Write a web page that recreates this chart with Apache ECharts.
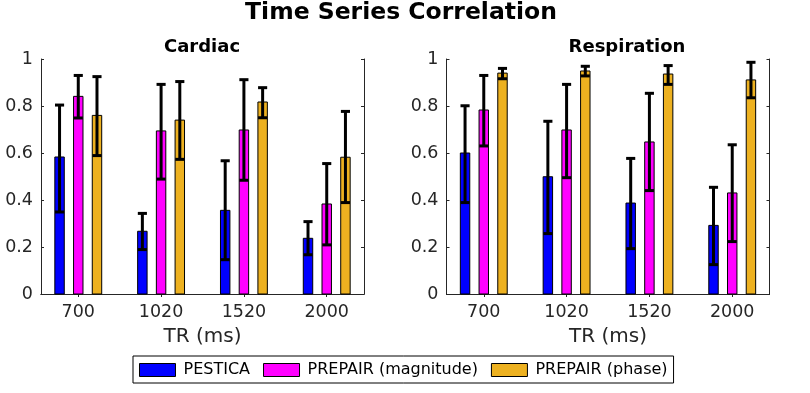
<!DOCTYPE html>
<html>
<head>
<meta charset="utf-8">
<script src="https://cdn.jsdelivr.net/npm/echarts@6/dist/echarts.min.js"></script>
<style>html,body{margin:0;padding:0;background:#fff;}#c{width:810px;height:393px;}</style>
</head>
<body>
<div id="c"></div>
<script>
const categories = ['700', '1020', '1520', '2000'];
const seriesNames = ['PESTICA', 'PREPAIR (magnitude)', 'PREPAIR (phase)'];
const yTicks = [0, 0.2, 0.4, 0.6, 0.8, 1];

// Cardiac
const cardiacPestica      = [0.583, 0.267, 0.356, 0.237];
const cardiacPesticaLo    = [0.349, 0.189, 0.146, 0.167];
const cardiacPesticaHi    = [0.804, 0.343, 0.567, 0.308];
const cardiacMagnitude    = [0.841, 0.694, 0.698, 0.383];
const cardiacMagnitudeLo  = [0.749, 0.489, 0.484, 0.209];
const cardiacMagnitudeHi  = [0.930, 0.892, 0.912, 0.555];
const cardiacPhase        = [0.760, 0.740, 0.817, 0.582];
const cardiacPhaseLo      = [0.589, 0.573, 0.750, 0.389];
const cardiacPhaseHi      = [0.925, 0.904, 0.878, 0.777];

// Respiration
const respPestica      = [0.600, 0.499, 0.387, 0.292];
const respPesticaLo    = [0.389, 0.257, 0.193, 0.125];
const respPesticaHi    = [0.801, 0.735, 0.577, 0.454];
const respMagnitude    = [0.783, 0.698, 0.647, 0.430];
const respMagnitudeLo  = [0.630, 0.495, 0.440, 0.223];
const respMagnitudeHi  = [0.930, 0.892, 0.854, 0.635];
const respPhase        = [0.940, 0.949, 0.936, 0.911];
const respPhaseLo      = [0.916, 0.928, 0.892, 0.835];
const respPhaseHi      = [0.960, 0.969, 0.972, 0.986];

const colors = ['#0000FF', '#FF00FF', '#EDB120'];
const offsets = [-0.226, 0, 0.226];
const halfW = 0.057;
const capHalf = 0.055;

const panels = [
  { means: [cardiacPestica, cardiacMagnitude, cardiacPhase],
    los: [cardiacPesticaLo, cardiacMagnitudeLo, cardiacPhaseLo],
    his: [cardiacPesticaHi, cardiacMagnitudeHi, cardiacPhaseHi] },
  { means: [respPestica, respMagnitude, respPhase],
    los: [respPesticaLo, respMagnitudeLo, respPhaseLo],
    his: [respPesticaHi, respMagnitudeHi, respPhaseHi] }
];

const axisColor = '#262626';
const font = 'DejaVu Sans';

function makeRender(si) {
  return function (params, api) {
    const x = api.value(0) + offsets[si];
    const mean = api.value(1), lo = api.value(2), hi = api.value(3);
    const p0 = api.coord([x - halfW, 0]);
    const p1 = api.coord([x + halfW, mean]);
    const t = api.coord([x, hi]);
    const b = api.coord([x, lo]);
    const cl = api.coord([x - capHalf, hi]);
    const cr = api.coord([x + capHalf, hi]);
    const lineStyle = { stroke: '#000', lineWidth: 3, fill: null };
    return {
      type: 'group',
      children: [
        { type: 'rect', shape: { x: p0[0], y: p1[1], width: p1[0] - p0[0], height: p0[1] - p1[1] },
          style: { fill: colors[si], stroke: '#000', lineWidth: 1 } },
        { type: 'line', shape: { x1: t[0], y1: t[1], x2: b[0], y2: b[1] }, style: lineStyle },
        { type: 'line', shape: { x1: cl[0], y1: t[1], x2: cr[0], y2: t[1] }, style: lineStyle },
        { type: 'line', shape: { x1: cl[0], y1: b[1], x2: cr[0], y2: b[1] }, style: lineStyle }
      ]
    };
  };
}

const grids = [
  { left: 41, top: 59, width: 323, height: 235 },
  { left: 446.5, top: 59, width: 323, height: 235 }
];

const xAxes = [], yAxes = [], series = [];
panels.forEach((p, gi) => {
  xAxes.push({
    type: 'value', gridIndex: gi, position: 'bottom', min: 0.55, max: 4.45,
    name: 'TR (ms)', nameLocation: 'middle', nameGap: 33,
    nameTextStyle: { color: axisColor, fontSize: 20, fontFamily: font },
    axisLine: { show: true, lineStyle: { color: axisColor, width: 1 } },
    axisTick: { show: true, inside: true, length: 3, customValues: [1, 2, 3, 4], lineStyle: { color: axisColor } },
    axisLabel: { show: true, customValues: [1, 2, 3, 4], margin: 9, color: axisColor, fontSize: 17.5, fontFamily: font,
      formatter: v => categories[Math.round(v) - 1] },
    splitLine: { show: false }
  });
  xAxes.push({
    type: 'value', gridIndex: gi, position: 'top', min: 0.55, max: 4.45,
    axisLine: { show: true, lineStyle: { color: axisColor, width: 1 } },
    axisTick: { show: true, inside: true, length: 3, customValues: [1, 2, 3, 4], lineStyle: { color: axisColor } },
    axisLabel: { show: false },
    splitLine: { show: false }
  });
  yAxes.push({
    type: 'value', gridIndex: gi, position: 'left', min: 0, max: 1, interval: 0.2,
    axisLine: { show: true, lineStyle: { color: axisColor, width: 1 } },
    axisTick: { show: true, inside: true, length: 3, lineStyle: { color: axisColor } },
    axisLabel: { show: true, margin: 8, color: axisColor, fontSize: 17.5, fontFamily: font,
      formatter: v => { const m = yTicks.find(t => Math.abs(t - v) < 1e-9); return m === undefined ? '' : String(m); } },
    splitLine: { show: false }
  });
  yAxes.push({
    type: 'value', gridIndex: gi, position: 'right', min: 0, max: 1, interval: 0.2,
    axisLine: { show: true, lineStyle: { color: axisColor, width: 1 } },
    axisTick: { show: true, inside: true, length: 3, lineStyle: { color: axisColor } },
    axisLabel: { show: false },
    splitLine: { show: false }
  });
  for (let si = 0; si < 3; si++) {
    const data = categories.map((c, ci) => [ci + 1, p.means[si][ci], p.los[si][ci], p.his[si][ci]]);
    series.push({
      type: 'custom', name: seriesNames[si],
      xAxisIndex: gi * 2, yAxisIndex: gi * 2,
      itemStyle: { color: colors[si] },
      renderItem: makeRender(si),
      encode: { x: 0, y: [1, 2, 3] },
      data: data,
      silent: true
    });
  }
});

const chart = echarts.init(document.getElementById('c'), null, { renderer: 'canvas' });
chart.setOption({
  backgroundColor: '#fff',
  animation: false,
  title: [
    { text: 'Time Series Correlation', left: 401, top: 1, textAlign: 'center', padding: 0,
      textStyle: { fontSize: 23.5, fontWeight: 'bold', color: '#000', fontFamily: font } },
    { text: 'Cardiac', left: 202, top: 38, textAlign: 'center', padding: 0,
      textStyle: { fontSize: 18, fontWeight: 'bold', color: '#000', fontFamily: font } },
    { text: 'Respiration', left: 627, top: 38, textAlign: 'center', padding: 0,
      textStyle: { fontSize: 18, fontWeight: 'bold', color: '#000', fontFamily: font } }
  ],
  legend: {
    left: 133, top: 356, orient: 'horizontal',
    padding: [6, 6, 5, 6], itemGap: 13, itemWidth: 36, itemHeight: 13,
    borderColor: '#000', borderWidth: 1, backgroundColor: '#fff',
    textStyle: { fontSize: 16, color: '#000', fontFamily: font, padding: [0, 0, 0, 3] },
    data: seriesNames.map((n, i) => ({ name: n, icon: 'rect',
      itemStyle: { color: colors[i], borderColor: '#000', borderWidth: 1 } }))
  },
  grid: grids,
  xAxis: xAxes,
  yAxis: yAxes,
  series: series
});
</script>
</body>
</html>
